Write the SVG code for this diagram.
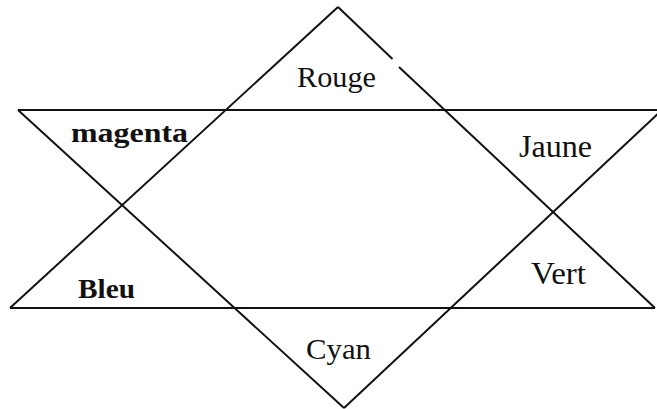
<svg xmlns="http://www.w3.org/2000/svg" width="657" height="409" viewBox="0 0 657 409">
<style>
.ln{stroke:#111;stroke-width:2;fill:none;stroke-linecap:butt}
.t{font-family:"Liberation Serif","Times New Roman",serif;fill:#111}
.b{font-weight:bold}
</style>
<rect width="657" height="409" fill="#fff"/>
<g id="connectors">
<line class="ln" x1="18" y1="110" x2="657" y2="110"/>
<line class="ln" x1="10" y1="308" x2="655" y2="308"/>
<line class="ln" x1="338" y1="7" x2="10" y2="308"/>
<line class="ln" x1="338" y1="7" x2="392.5" y2="59"/>
<line class="ln" x1="399" y1="67" x2="655" y2="308"/>
<line class="ln" x1="18" y1="110" x2="344" y2="408"/>
<line class="ln" x1="662" y1="110" x2="344" y2="408"/>
</g>
<g id="rouge"><text class="t" x="297" y="87" font-size="29" textLength="79" lengthAdjust="spacingAndGlyphs">Rouge</text></g>
<g id="magenta"><text class="t b" x="71" y="142" font-size="28" textLength="117" lengthAdjust="spacingAndGlyphs">magenta</text></g>
<g id="jaune"><text class="t" x="519" y="157" font-size="31" textLength="73" lengthAdjust="spacingAndGlyphs">Jaune</text></g>
<g id="bleu"><text class="t b" x="78" y="298" font-size="28" textLength="57" lengthAdjust="spacingAndGlyphs">Bleu</text></g>
<g id="vert"><text class="t" x="531" y="284" font-size="31" textLength="55" lengthAdjust="spacingAndGlyphs">Vert</text></g>
<g id="cyan"><text class="t" x="306" y="359" font-size="29" textLength="65" lengthAdjust="spacingAndGlyphs">Cyan</text></g>
</svg>
